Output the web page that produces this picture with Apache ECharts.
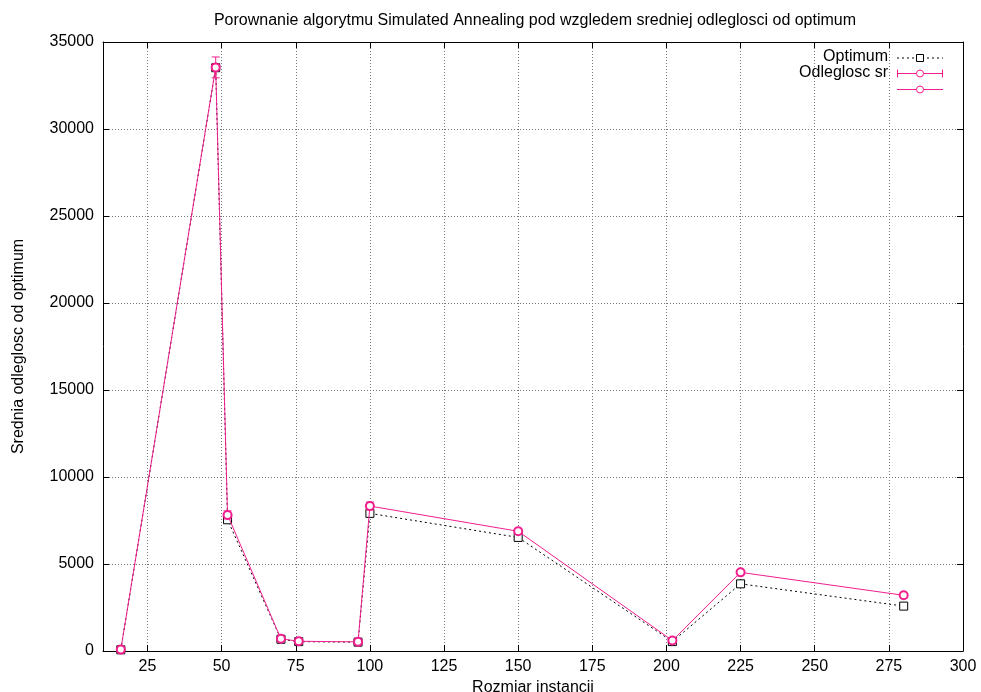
<!DOCTYPE html>
<html>
<head>
<meta charset="utf-8">
<script src="https://cdn.jsdelivr.net/npm/echarts@6/dist/echarts.min.js"></script>
<style>html,body{margin:0;padding:0;background:#fff;overflow:hidden;}#c{width:981px;height:692px;}</style>
</head>
<body>
<div id="c"></div>
<script>
const sizes    = [16, 48, 52, 70, 76, 96, 100, 150, 202, 225, 280];
const optimum  = [70, 33522, 7542, 675, 538, 510, 7910, 6528, 540, 3860, 2580];
const avgDist  = [80, 33540, 7820, 700, 560, 525, 8330, 6880, 600, 4520, 3200];
const errDist  = [20, 600, 230, 30, 20, 15, 230, 170, 30, 40, 40];
const xTicks   = [25, 50, 75, 100, 125, 150, 175, 200, 225, 250, 275, 300];
const yTicks   = [0, 5000, 10000, 15000, 20000, 25000, 30000, 35000];
const titleText = 'Porownanie algorytmu Simulated Annealing pod wzgledem sredniej odleglosci od optimum';
const xName = 'Rozmiar instancji';
const yName = 'Srednia odleglosc od optimum';
const legendNames = ['Optimum', 'Odleglosc sr', ''];

const PINK = '#f21e8e';
const FONT = '"Liberation Sans", Arial, Helvetica, sans-serif';
const FS = 16;

const chart = echarts.init(document.getElementById('c'), null, {renderer: 'canvas', width: 981, height: 692});

function xAxisCfg(pos, showLabel) {
  return {
    type: 'value', position: pos, min: 10, max: 300,
    name: showLabel ? xName : '', nameLocation: 'middle', nameGap: 24,
    nameTextStyle: {fontFamily: FONT, fontSize: FS, color: '#000'},
    axisLine: {show: true, onZero: false, lineStyle: {color: '#000', width: 1}},
    axisTick: {show: true, inside: true, length: 6, customValues: xTicks, lineStyle: {color: '#000'}},
    axisLabel: {show: showLabel, customValues: xTicks, fontFamily: FONT, fontSize: FS, color: '#000', margin: 8},
    splitLine: {show: showLabel, lineStyle: {color: '#777', type: [1, 2], width: 1}}
  };
}
function yAxisCfg(pos, showLabel) {
  return {
    type: 'value', position: pos, min: yTicks[0], max: yTicks[yTicks.length - 1], interval: yTicks[1] - yTicks[0],
    name: showLabel ? yName : '', nameLocation: 'middle', nameGap: 76,
    nameTextStyle: {fontFamily: FONT, fontSize: FS, color: '#000'},
    axisLine: {show: true, onZero: false, lineStyle: {color: '#000', width: 1}},
    axisTick: {show: true, inside: true, length: 6, lineStyle: {color: '#000'}},
    axisLabel: {show: showLabel, formatter: v => String(v), fontFamily: FONT, fontSize: FS, color: '#000', margin: 9},
    splitLine: {show: showLabel, lineStyle: {color: '#777', type: [1, 2], width: 1}}
  };
}

const optData = sizes.map((s, i) => [s, optimum[i]]);
const avgData = sizes.map((s, i) => [s, avgDist[i]]);
const errData = sizes.map((s, i) => [s, avgDist[i], errDist[i]]);

const option = {
  animation: false,
  backgroundColor: '#fff',
  title: {
    text: titleText, left: 530, top: 8, textAlign: 'center',
    textStyle: {fontFamily: FONT, fontSize: FS, fontWeight: 'normal', color: '#000'}
  },
  grid: {left: 103, width: 860, top: 42, height: 609, containLabel: false, outerBoundsMode: 'none'},
  xAxis: [xAxisCfg('bottom', true), xAxisCfg('top', false)],
  yAxis: [yAxisCfg('left', true), yAxisCfg('right', false)],
  series: [
    {
      name: legendNames[0], type: 'line', data: optData, xAxisIndex: 0, yAxisIndex: 0,
      symbol: 'rect', symbolSize: 8, showAllSymbol: true,
      lineStyle: {color: '#000', width: 1, type: [2, 3]},
      itemStyle: {color: '#fff', borderColor: '#000', borderWidth: 1},
      z: 2
    },
    {
      name: legendNames[1], type: 'custom', data: errData, xAxisIndex: 0, yAxisIndex: 0,
      renderItem: function (params, api) {
        const x = api.value(0), y = api.value(1), e = api.value(2);
        const top = api.coord([x, y + e]);
        const bot = api.coord([x, y - e]);
        const w = 4;
        const st = {stroke: PINK, lineWidth: 1, fill: null};
        return {
          type: 'group', children: [
            {type: 'line', shape: {x1: top[0], y1: top[1], x2: bot[0], y2: bot[1]}, style: st},
            {type: 'line', shape: {x1: top[0] - w, y1: top[1], x2: top[0] + w, y2: top[1]}, style: st},
            {type: 'line', shape: {x1: bot[0] - w, y1: bot[1], x2: bot[0] + w, y2: bot[1]}, style: st}
          ]
        };
      },
      z: 3
    },
    {
      name: 'avgline', type: 'line', data: avgData, xAxisIndex: 0, yAxisIndex: 0,
      symbol: 'emptyCircle', symbolSize: 8, showAllSymbol: true,
      lineStyle: {color: PINK, width: 1},
      itemStyle: {color: PINK, borderColor: PINK, borderWidth: 1},
      z: 4
    }
  ],
  graphic: [
    {type: 'text', right: 981 - 888, top: 49, style: {text: legendNames[0], font: FS + 'px ' + FONT, fill: '#000', textAlign: 'right'}},
    {type: 'text', right: 981 - 888, top: 65, style: {text: legendNames[1], font: FS + 'px ' + FONT, fill: '#000', textAlign: 'right'}},
    {type: 'line', shape: {x1: 897, y1: 58, x2: 943, y2: 58}, style: {stroke: '#000', lineWidth: 1, lineDash: [2, 3]}},
    {type: 'rect', shape: {x: 916.5, y: 54.5, width: 7, height: 7}, style: {stroke: '#000', fill: '#fff', lineWidth: 1}},
    {type: 'line', shape: {x1: 897, y1: 73.5, x2: 943, y2: 73.5}, style: {stroke: PINK, lineWidth: 1}},
    {type: 'line', shape: {x1: 897.5, y1: 69.5, x2: 897.5, y2: 77.5}, style: {stroke: PINK, lineWidth: 1}},
    {type: 'line', shape: {x1: 942.5, y1: 69.5, x2: 942.5, y2: 77.5}, style: {stroke: PINK, lineWidth: 1}},
    {type: 'circle', shape: {cx: 920, cy: 73.5, r: 3.5}, style: {stroke: PINK, fill: '#fff', lineWidth: 1}},
    {type: 'line', shape: {x1: 897, y1: 89.5, x2: 943, y2: 89.5}, style: {stroke: PINK, lineWidth: 1}},
    {type: 'circle', shape: {cx: 920, cy: 89.5, r: 3.5}, style: {stroke: PINK, fill: '#fff', lineWidth: 1}}
  ]
};
chart.setOption(option);
</script>
</body>
</html>
